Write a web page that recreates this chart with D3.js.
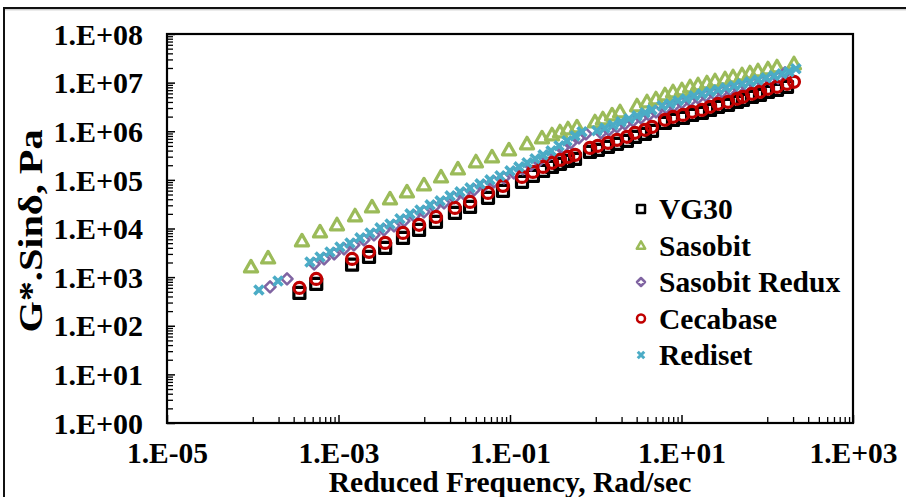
<!DOCTYPE html>
<html><head><meta charset="utf-8">
<script src="https://cdn.jsdelivr.net/npm/d3@7/dist/d3.min.js"></script>
<style>
html,body{margin:0;padding:0;background:#fff;}
svg{display:block;}
text{font-family:"Liberation Serif","Times New Roman",serif;font-weight:bold;fill:#000;}
</style></head>
<body>
<svg id="chart" width="906" height="497"></svg>
<script>
// ---------- data ----------
const seriesNames = ["VG30", "Sasobit", "Sasobit Redux", "Cecabase", "Rediset"];

const vg30Freq = [3.5e-4,5.5e-4,1.44e-3,2.27e-3,3.5e-3,5.65e-3,8.7e-3,1.37e-2,2.28e-2,3.42e-2,
  5.54e-2,8.28e-2,0.138,0.185,0.243,0.309,0.383,0.475,0.573,0.857,
  1.06,1.39,1.77,2.31,2.87,3.75,4.53,6.42,7.96,10.4,
  13.3,17.3,21.5,26.7,34.9,44.4,52.1,66.4,82.3,102,
  130,170];
const vg30Val = [473,724,1800,2600,3990,6400,9360,1.37e4,2.09e4,2.78e4,
  4.27e4,5.94e4,9.1e4,1.21e5,1.53e5,1.85e5,2.14e5,2.46e5,2.70e5,3.77e5,
  4.15e5,4.78e5,5.51e5,6.35e5,7.67e5,8.85e5,1.02e6,1.49e6,1.71e6,1.88e6,
  2.17e6,2.39e6,2.75e6,3.18e6,3.49e6,4.03e6,4.43e6,5.1e6,5.61e6,6.46e6,
  7.1e6,8.18e6];

const sasobitFreq = [9.54e-5,1.51e-4,3.75e-4,6.09e-4,9.6e-4,1.56e-3,2.46e-3,3.99e-3,6.29e-3,9.93e-3,
  1.57e-2,2.47e-2,4.01e-2,6.17e-2,9.73e-2,0.158,0.236,0.309,0.383,0.475,
  0.604,0.98,1.21,1.55,1.92,3.03,3.96,5.04,6.42,7.96,
  10.1,12.6,15.6,19.8,24.6,32.2,39.9,50.8,62.9,78.0,
  102,130,205];
const sasobitVal = [1622,2483,5557,8511,1.19e4,1.82e4,2.78e4,4.06e4,5.66e4,7.89e4,
  1.15e5,1.68e5,2.35e5,2.97e5,4.14e5,5.51e5,7.31e5,8.43e5,9.72e5,1.12e6,
  1.23e6,1.56e6,1.80e6,2.17e6,2.51e6,3.33e6,4.03e6,4.64e6,5.61e6,6.47e6,
  7.11e6,8.2e6,9.02e6,9.9e6,1.09e7,1.2e7,1.32e7,1.45e7,1.59e7,1.75e7,
  1.92e7,2.11e7,2.44e7];

const reduxFreq = [1.59e-4,2.51e-4,5.2e-4,6.8e-4,8.9e-4,1.16e-3,1.51e-3,1.98e-3,2.59e-3,3.39e-3,
  4.44e-3,5.8e-3,7.59e-3,9.93e-3,1.30e-2,1.70e-2,2.23e-2,2.9e-2,3.81e-2,4.98e-2,
  6.5e-2,8.5e-2,0.111,0.141,0.176,0.218,0.27,0.335,0.415,0.514,
  0.638,0.769,1.15,1.42,1.77,2.19,2.72,3.37,4.17,5.04,
  6.59,8.17,10.1,12.6,15.6,19.3,23.9,29.7,36.7,45.6,
  56.5,70.0,86.8,108,134,161];
const reduxVal = [629,918,1870,2370,3000,3800,4600,5830,7380,9360,
  1.13e4,1.44e4,1.82e4,2.19e4,2.78e4,3.36e4,4.26e4,5.15e4,6.23e4,7.52e4,
  9.09e4,1.1e5,1.39e5,1.68e5,2.04e5,2.46e5,2.97e5,3.59e5,4.55e5,5.76e5,
  7.31e5,8.84e5,9.27e5,1.06e6,1.23e6,1.42e6,1.64e6,1.88e6,2.17e6,2.5e6,
  3.03e6,3.33e6,3.84e6,4.22e6,4.86e6,5.35e6,5.88e6,6.46e6,7.1e6,7.81e6,
  8.58e6,9.45e6,1.04e7,1.15e7,1.25e7,1.59e7];

const cecabaseFreq = [3.5e-4,5.5e-4,1.44e-3,2.27e-3,3.5e-3,5.65e-3,8.7e-3,1.37e-2,2.28e-2,3.42e-2,
  5.54e-2,8.28e-2,0.138,0.185,0.243,0.309,0.383,0.475,0.573,0.857,
  1.06,1.39,1.77,2.31,2.87,3.75,4.53,6.42,7.96,10.4,
  13.3,17.3,21.5,26.7,34.9,44.4,52.1,66.4,82.3,102,
  130,170,205];
const cecabaseVal = [600,918,2370,3300,5060,8120,1.19e4,1.73e4,2.65e4,3.52e4,
  5.4e4,7.53e4,1.15e5,1.46e5,1.85e5,2.24e5,2.58e5,2.97e5,3.27e5,4.55e5,
  5.01e5,5.77e5,6.65e5,7.67e5,9.27e5,1.07e6,1.23e6,1.72e6,1.98e6,2.17e6,
  2.51e6,2.75e6,3.18e6,3.66e6,4.03e6,4.64e6,5.1e6,5.88e6,6.47e6,7.45e6,
  8.2e6,9.44e6,1.04e7];

const redisetFreq = [1.18e-4,1.97e-4,4.65e-4,6.09e-4,7.96e-4,1.04e-3,1.36e-3,1.78e-3,2.33e-3,3.05e-3,
  3.99e-3,5.21e-3,6.82e-3,8.92e-3,1.17e-2,1.53e-2,2.0e-2,2.61e-2,3.42e-2,4.47e-2,
  5.84e-2,7.64e-2,0.1,0.127,0.158,0.196,0.243,0.301,0.373,0.462,
  0.573,0.691,1.03,1.28,1.59,1.97,2.44,3.03,3.75,4.53,
  5.92,7.34,9.1,11.3,14.0,17.3,21.5,26.7,33.0,41.0,
  50.8,62.9,78.0,96.7,120,149,179,216];
const redisetVal = [545,835,2055,2605,3300,4180,5055,6410,8117,1.03e4,
  1.24e4,1.58e4,2.0e4,2.41e4,3.06e4,3.70e4,4.69e4,5.66e4,6.85e4,8.27e4,
  1.0e5,1.21e5,1.53e5,1.85e5,2.24e5,2.71e5,3.27e5,3.95e5,5.01e5,6.34e5,
  8.04e5,9.72e5,1.02e6,1.17e6,1.35e6,1.56e6,1.80e6,2.07e6,2.39e6,2.75e6,
  3.33e6,3.66e6,4.22e6,4.64e6,5.35e6,5.88e6,6.47e6,7.11e6,7.81e6,8.59e6,
  9.44e6,1.04e7,1.14e7,1.26e7,1.38e7,1.52e7,1.67e7,1.92e7];

const xTickLabels = [1e-5, 1e-3, 1e-1, 1e1, 1e3];
const yTickLabels = [1e0,1e1,1e2,1e3,1e4,1e5,1e6,1e7,1e8];
const xTitle = "Reduced Frequency, Rad/sec";
const yTitle = "G*.Sinδ, Pa";

// ---------- styling ----------
const colors = {"VG30":"#000000","Sasobit":"#9BBB59","Sasobit Redux":"#8064A2","Cecabase":"#C00000","Rediset":"#4BACC6"};
const shapes = {"VG30":"square","Sasobit":"triangle","Sasobit Redux":"diamond","Cecabase":"circle","Rediset":"x"};

const series = [
  {name:"VG30", f:vg30Freq, v:vg30Val},
  {name:"Sasobit", f:sasobitFreq, v:sasobitVal},
  {name:"Sasobit Redux", f:reduxFreq, v:reduxVal},
  {name:"Cecabase", f:cecabaseFreq, v:cecabaseVal},
  {name:"Rediset", f:redisetFreq, v:redisetVal}
];

const svg = d3.select("#chart");
const L = 167, R = 853, T = 34, B = 423;
const x = d3.scaleLog().domain([1e-5, 1e3]).range([L, R]);
const y = d3.scaleLog().domain([1, 1e8]).range([B, T]);
const FONT = '"Liberation Serif","Times New Roman",serif';

// outer frame
svg.append("line").attr("x1",4).attr("x2",906).attr("y1",8).attr("y2",8).attr("stroke","#111").attr("stroke-width",2);
svg.append("line").attr("x1",4).attr("x2",906).attr("y1",9.8).attr("y2",9.8).attr("stroke","#bbb").attr("stroke-width",1);
svg.append("line").attr("x1",4).attr("x2",4).attr("y1",7).attr("y2",497).attr("stroke","#111").attr("stroke-width",2);

const fmt = d => { const e = Math.round(Math.log10(d)); return "1.E" + (e<0?"-":"+") + String(Math.abs(e)).padStart(2,"0"); };

// minor/major tick values
const yMinor = []; for (let e=0;e<8;e++) for (let m=2;m<=9;m++) yMinor.push(m*Math.pow(10,e));
const xMinor = []; [-4,-2,0,2].forEach(e=>{ for (let m=1;m<=9;m++) xMinor.push(m*Math.pow(10,e)); });

// y inside ticks
svg.append("g").attr("transform",`translate(${L},0)`)
  .call(d3.axisRight(y).tickValues(yMinor).tickSize(6).tickFormat(""))
  .call(g=>g.select(".domain").remove())
  .call(g=>g.selectAll("line").attr("stroke","#000").attr("stroke-width",1.3));
svg.append("g").attr("transform",`translate(${L},0)`)
  .call(d3.axisRight(y).tickValues(yTickLabels).tickSize(8).tickFormat(""))
  .call(g=>g.select(".domain").remove())
  .call(g=>g.selectAll("line").attr("stroke","#000").attr("stroke-width",1.5));
// x inside ticks
svg.append("g").attr("transform",`translate(0,${B})`)
  .call(d3.axisTop(x).tickValues(xMinor).tickSize(6).tickFormat(""))
  .call(g=>g.select(".domain").remove())
  .call(g=>g.selectAll("line").attr("stroke","#000").attr("stroke-width",1.3));
svg.append("g").attr("transform",`translate(0,${B})`)
  .call(d3.axisTop(x).tickValues(xTickLabels).tickSize(8).tickFormat(""))
  .call(g=>g.select(".domain").remove())
  .call(g=>g.selectAll("line").attr("stroke","#000").attr("stroke-width",1.5));

// labels
svg.append("g").attr("transform",`translate(${L},0)`)
  .call(d3.axisLeft(y).tickValues(yTickLabels).tickSize(0).tickPadding(24).tickFormat(fmt))
  .call(g=>g.select(".domain").remove())
  .call(g=>g.selectAll("text").attr("font-size",30).attr("dy","0.34em").style("font-family",FONT).style("font-weight","bold"));
svg.append("g").attr("transform",`translate(0,${B})`)
  .call(d3.axisBottom(x).tickValues(xTickLabels).tickSize(0).tickPadding(19).tickFormat(fmt))
  .call(g=>g.select(".domain").remove())
  .call(g=>g.selectAll("text").attr("font-size",29.5).style("font-family",FONT).style("font-weight","bold"));

// plot box
svg.append("rect").attr("x",L).attr("y",T).attr("width",R-L).attr("height",B-T)
  .attr("fill","none").attr("stroke","#000").attr("stroke-width",2.2);

// titles
svg.append("text").attr("x",510).attr("y",492).attr("text-anchor","middle").attr("font-size",29.5).text(xTitle);
svg.append("text").attr("transform","translate(42,231) rotate(-90) scale(1.22,1)").attr("text-anchor","middle").attr("font-size",33).text(yTitle);

// marker paths
function markerPath(shape, s) {
  const h = s/2;
  switch(shape){
    case "square": return `M${-h},${-h}H${h}V${h}H${-h}Z`;
    case "triangle": return `M0,${-h*1.05}L${h*1.05},${h*0.8}L${-h*1.05},${h*0.8}Z`;
    case "diamond": return `M0,${-h}L${h},0L0,${h}L${-h},0Z`;
    case "circle": return `M${h},0A${h},${h} 0 1,1 ${-h},0A${h},${h} 0 1,1 ${h},0Z`;
    case "x": return `M${-h},${-h}L${h},${h}M${h},${-h}L${-h},${h}`;
  }
}
const plotSize = {"square":11,"triangle":12.5,"diamond":11,"circle":11,"x":9};
const plotStroke = {"square":3.2,"triangle":3.2,"diamond":2.6,"circle":3.2,"x":3.6};

const gp = svg.append("g");
series.forEach(s => {
  const sh = shapes[s.name];
  const pts = s.f.map((f,i)=>({f, v:s.v[i]}));
  gp.append("g").selectAll("path").data(pts).join("path")
    .attr("transform", d=>`translate(${x(d.f)},${y(d.v)})`)
    .attr("d", markerPath(sh, plotSize[sh]))
    .attr("fill","none")
    .attr("stroke", colors[s.name])
    .attr("stroke-width", plotStroke[sh])
    .attr("stroke-linejoin","round");
});

// legend
const legY = [209, 245.5, 282, 318.5, 355];
const lg = svg.append("g");
seriesNames.forEach((n,i)=>{
  const sh = shapes[n];
  lg.append("path").attr("transform",`translate(641,${legY[i]})`)
    .attr("d", markerPath(sh, sh==="x"?6.5:8))
    .attr("fill","none").attr("stroke",colors[n])
    .attr("stroke-width", sh==="x"?3:2.5).attr("stroke-linejoin","round");
  lg.append("text").attr("x",659).attr("y",legY[i]).attr("dy","0.34em").attr("font-size",29.5).text(n);
});
</script>
</body></html>
